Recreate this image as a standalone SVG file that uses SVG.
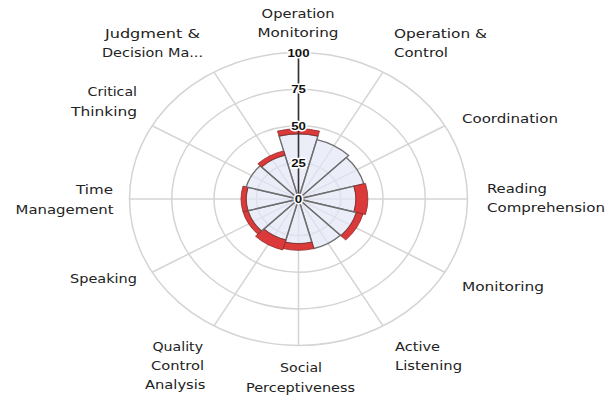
<svg xmlns="http://www.w3.org/2000/svg" width="607" height="398" viewBox="0 0 607 398">
<style>
.grid{fill:none;stroke:#d4d4d4;stroke-width:1.5;vector-effect:non-scaling-stroke}
.sec{fill:#e3e6f6;fill-opacity:0.7;stroke:#6e6e6e;stroke-width:1.4;vector-effect:non-scaling-stroke;stroke-linejoin:round}
.band{fill:#dc3a3a;stroke:#8a2a2a;stroke-width:0.8;vector-effect:non-scaling-stroke}
.axis{stroke:#333;stroke-width:1.6;vector-effect:non-scaling-stroke}
.lbl{font-family:"DejaVu Sans",Verdana,sans-serif;font-size:13px;fill:#222}
.tick{font-family:"Liberation Sans",Arial,sans-serif;font-size:11.5px;font-weight:bold;fill:#111;text-anchor:middle;stroke:#fff;stroke-width:3px;paint-order:stroke;stroke-linejoin:round}
</style>
<rect width="607" height="398" fill="#fff"/>
<g id="chart" transform="translate(298.5 199) scale(1.1536 1)">
  <g id="grid">
    <circle class="grid" r="36.625"/>
    <circle class="grid" r="73.25"/>
    <circle class="grid" r="109.875"/>
    <circle class="grid" r="146.5"/>
    <line class="grid" x1="0" y1="-146.5" x2="0" y2="146.5"/>
    <line class="grid" x1="73.25" y1="-126.87" x2="-73.25" y2="126.87"/>
    <line class="grid" x1="126.87" y1="-73.25" x2="-126.87" y2="73.25"/>
    <line class="grid" x1="146.5" y1="0" x2="-146.5" y2="0"/>
    <line class="grid" x1="126.87" y1="73.25" x2="-126.87" y2="-73.25"/>
    <line class="grid" x1="73.25" y1="126.87" x2="-73.25" y2="-126.87"/>
  </g>
  <g id="connectors">
    <g id="s-operation-monitoring">
      <path class="sec" d="M0,0 L-16.87,-62.98 A65.2,65.2 0 0 1 16.87,-62.98 Z"/>
      <path class="band" d="M-16.87,-62.98 L-18.19,-67.9 A70.3,70.3 0 0 1 18.19,-67.9 L16.87,-62.98 A65.2,65.2 0 0 0 -16.87,-62.98 Z"/>
    </g>
    <g id="s-operation-control">
      <path class="sec" d="M0,0 L15.92,-59.4 A61.5,61.5 0 0 1 43.49,-43.49 Z"/>
    </g>
    <g id="s-coordination">
      <path class="sec" d="M0,0 L41.44,-41.44 A58.6,58.6 0 0 1 56.6,-15.17 Z"/>
    </g>
    <g id="s-reading">
      <path class="sec" d="M0,0 L48.1,-12.89 A49.8,49.8 0 0 1 48.1,12.89 Z"/>
      <path class="band" d="M48.1,-12.89 L58.05,-15.55 A60.1,60.1 0 0 1 58.05,15.55 L48.1,12.89 A49.8,49.8 0 0 0 48.1,-12.89 Z"/>
    </g>
    <g id="s-monitoring">
      <path class="sec" d="M0,0 L50.23,13.46 A52,52 0 0 1 36.77,36.77 Z"/>
      <path class="band" d="M50.23,13.46 L55.93,14.98 A57.9,57.9 0 0 1 40.94,40.94 L36.77,36.77 A52,52 0 0 0 50.23,13.46 Z"/>
    </g>
    <g id="s-active-listening">
      <path class="sec" d="M0,0 L36.27,36.27 A51.3,51.3 0 0 1 13.28,49.55 Z"/>
    </g>
    <g id="s-social">
      <path class="sec" d="M0,0 L11.57,43.18 A44.7,44.7 0 0 1 -11.57,43.18 Z"/>
      <path class="band" d="M11.57,43.18 L13.28,49.55 A51.3,51.3 0 0 1 -13.28,49.55 L-11.57,43.18 A44.7,44.7 0 0 0 11.57,43.18 Z"/>
    </g>
    <g id="s-quality">
      <path class="sec" d="M0,0 L-11,41.05 A42.5,42.5 0 0 1 -30.05,30.05 Z"/>
      <path class="band" d="M-11,41.05 L-13.64,50.9 A52.7,52.7 0 0 1 -37.26,37.26 L-30.05,30.05 A42.5,42.5 0 0 0 -11,41.05 Z"/>
    </g>
    <g id="s-speaking">
      <path class="sec" d="M0,0 L-32.1,32.1 A45.4,45.4 0 0 1 -43.85,11.75 Z"/>
      <path class="band" d="M-32.1,32.1 L-35.21,35.21 A49.8,49.8 0 0 1 -48.1,12.89 L-43.85,11.75 A45.4,45.4 0 0 0 -32.1,32.1 Z"/>
    </g>
    <g id="s-time">
      <path class="sec" d="M0,0 L-43.85,11.75 A45.4,45.4 0 0 1 -43.85,-11.75 Z"/>
      <path class="band" d="M-43.85,11.75 L-48.1,12.89 A49.8,49.8 0 0 1 -48.1,-12.89 L-43.85,-11.75 A45.4,45.4 0 0 0 -43.85,11.75 Z"/>
    </g>
    <g id="s-critical">
      <path class="sec" d="M0,0 L-45.3,-12.14 A46.9,46.9 0 0 1 -33.16,-33.16 Z"/>
    </g>
    <g id="s-judgment">
      <path class="sec" d="M0,0 L-32.1,-32.1 A45.4,45.4 0 0 1 -11.75,-43.85 Z"/>
      <path class="band" d="M-32.1,-32.1 L-35.21,-35.21 A49.8,49.8 0 0 1 -12.89,-48.1 L-11.75,-43.85 A45.4,45.4 0 0 0 -32.1,-32.1 Z"/>
    </g>
    <line class="axis" x1="0" y1="0" x2="0" y2="-146.5"/>
  </g>
</g>
<g id="ticks">
  <text class="tick" transform="translate(298.5 56.6) scale(1.15 1)">100</text>
  <text class="tick" transform="translate(298.5 93.2) scale(1.15 1)">75</text>
  <text class="tick" transform="translate(298.5 129.8) scale(1.15 1)">50</text>
  <text class="tick" transform="translate(298.5 166.5) scale(1.15 1)">25</text>
  <text class="tick" transform="translate(298.5 203.1) scale(1.15 1)">0</text>
</g>
<g id="n-operation-monitoring"><text class="lbl" x="261.6" y="17.5" textLength="73" lengthAdjust="spacingAndGlyphs">Operation</text><text class="lbl" x="257.5" y="36.5" textLength="81" lengthAdjust="spacingAndGlyphs">Monitoring</text></g>
<g id="n-judgment"><text class="lbl" x="105" y="38" textLength="95" lengthAdjust="spacingAndGlyphs">Judgment  &amp;</text><text class="lbl" x="102" y="57" textLength="101" lengthAdjust="spacingAndGlyphs">Decision Ma...</text></g>
<g id="n-operation-control"><text class="lbl" x="394" y="38" textLength="93" lengthAdjust="spacingAndGlyphs">Operation  &amp;</text><text class="lbl" x="394" y="57" textLength="54" lengthAdjust="spacingAndGlyphs">Control</text></g>
<g id="n-critical"><text class="lbl" x="87.5" y="96" textLength="49.5" lengthAdjust="spacingAndGlyphs">Critical</text><text class="lbl" x="71" y="115.5" textLength="66" lengthAdjust="spacingAndGlyphs">Thinking</text></g>
<g id="n-coordination"><text class="lbl" x="462" y="123" textLength="96" lengthAdjust="spacingAndGlyphs">Coordination</text></g>
<g id="n-time"><text class="lbl" x="76" y="194" textLength="37" lengthAdjust="spacingAndGlyphs">Time</text><text class="lbl" x="15.6" y="213.5" textLength="98" lengthAdjust="spacingAndGlyphs">Management</text></g>
<g id="n-reading"><text class="lbl" x="487" y="193" textLength="60" lengthAdjust="spacingAndGlyphs">Reading</text><text class="lbl" x="487" y="212" textLength="118" lengthAdjust="spacingAndGlyphs">Comprehension</text></g>
<g id="n-speaking"><text class="lbl" x="70" y="283" textLength="67" lengthAdjust="spacingAndGlyphs">Speaking</text></g>
<g id="n-monitoring"><text class="lbl" x="462" y="291" textLength="82" lengthAdjust="spacingAndGlyphs">Monitoring</text></g>
<g id="n-quality"><text class="lbl" x="152.5" y="350.5" textLength="50.5" lengthAdjust="spacingAndGlyphs">Quality</text><text class="lbl" x="151" y="370" textLength="53" lengthAdjust="spacingAndGlyphs">Control</text><text class="lbl" x="145" y="389" textLength="60.5" lengthAdjust="spacingAndGlyphs">Analysis</text></g>
<g id="n-social"><text class="lbl" x="280" y="372" textLength="42" lengthAdjust="spacingAndGlyphs">Social</text><text class="lbl" x="246" y="391.5" textLength="109" lengthAdjust="spacingAndGlyphs">Perceptiveness</text></g>
<g id="n-active"><text class="lbl" x="395" y="350.5" textLength="45" lengthAdjust="spacingAndGlyphs">Active</text><text class="lbl" x="395" y="370" textLength="67" lengthAdjust="spacingAndGlyphs">Listening</text></g>
</svg>
